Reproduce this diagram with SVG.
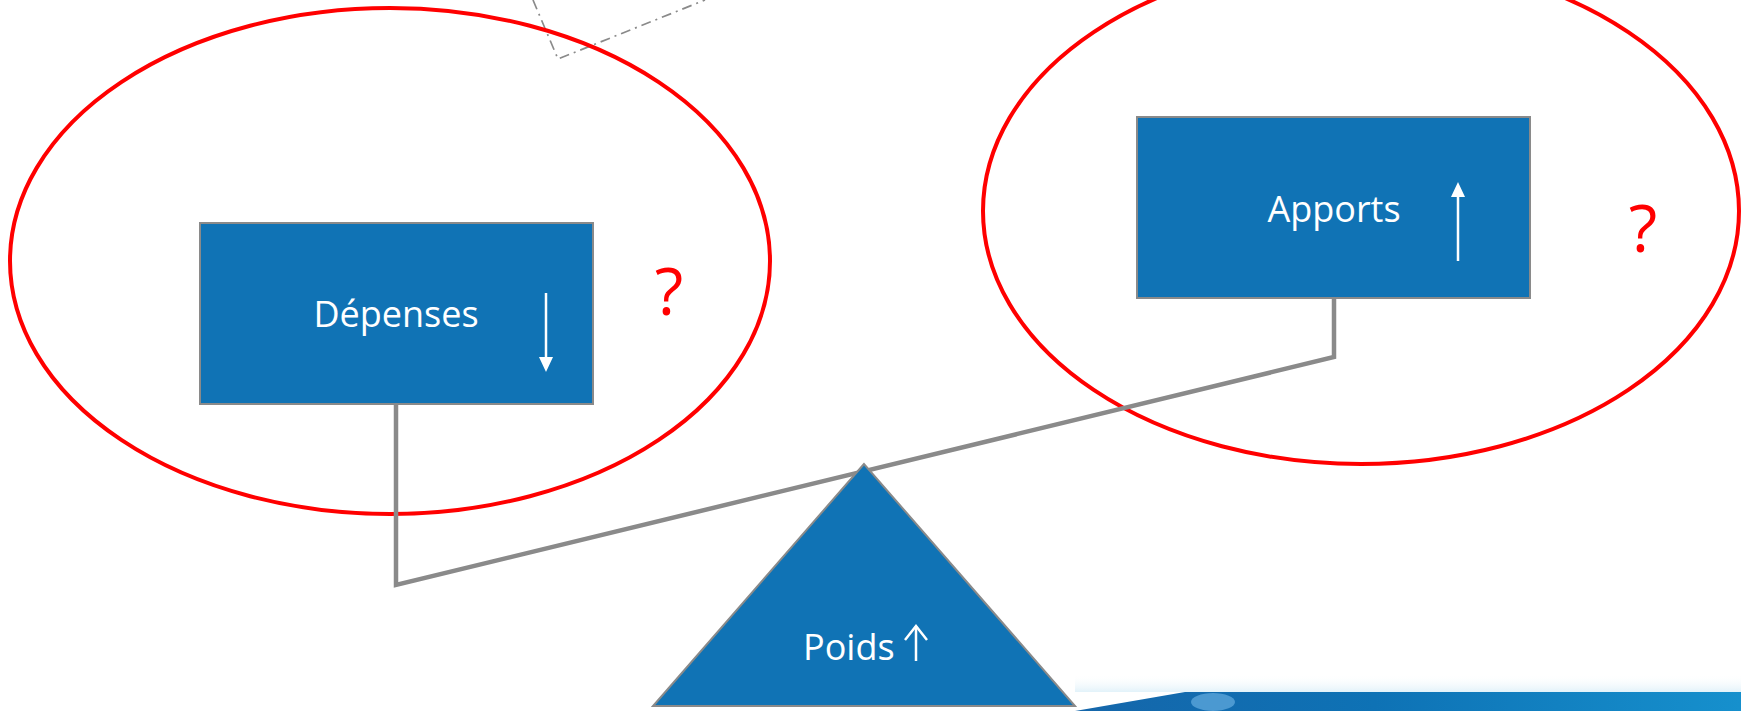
<svg xmlns="http://www.w3.org/2000/svg" width="1741" height="711" viewBox="0 0 1741 711">
<style>
.node{fill:#1073b5;stroke:#8a8a8a;stroke-width:2}
.lbl{font-family:"Open Sans","Noto Sans",sans-serif;font-size:36px;fill:#ffffff}
.q{font-family:"Open Sans","Noto Sans",sans-serif;font-size:66px;fill:#ff0000}
.ring{fill:none;stroke:#ff0000;stroke-width:4}
.beam{fill:none;stroke:#8a8a8a;stroke-width:4.5;stroke-linejoin:miter}
.shaft{stroke:#ffffff;stroke-width:2.5;fill:none}
.head{fill:#ffffff}
</style>
<defs>
<linearGradient id="band" x1="0" y1="0" x2="1" y2="0">
<stop offset="0" stop-color="#1566aa"/>
<stop offset="0.45" stop-color="#0e72b5"/>
<stop offset="1" stop-color="#1690cd"/>
</linearGradient>
<linearGradient id="haze" x1="0" y1="0" x2="0" y2="1">
<stop offset="0" stop-color="#ffffff" stop-opacity="0"/>
<stop offset="1" stop-color="#e2f2fa"/>
</linearGradient>
</defs>
<g id="decor">
<rect x="1075" y="674" width="666" height="18" fill="url(#haze)"/>
<path d="M1075,711 L1185,692 L1741,692 L1741,711 Z" fill="url(#band)"/>
<ellipse cx="1213" cy="702" rx="22" ry="9" fill="#5fa8dc" opacity="0.75"/>
<polyline points="533,0 558,59 705,0" fill="none" stroke="#8a8a8a" stroke-width="1.7" stroke-dasharray="10,5,2,5"/>
</g>
<g id="ring-left">
<ellipse class="ring" cx="390" cy="261" rx="380" ry="253"/>
<text class="q" x="669" y="315" text-anchor="middle">?</text>
</g>
<g id="ring-right">
<ellipse class="ring" cx="1361" cy="211" rx="378" ry="253"/>
<text class="q" x="1643" y="252" text-anchor="middle">?</text>
</g>
<g id="connectors">
<polyline class="beam" points="396,404 396,585 1334,357 1334,298"/>
</g>
<g id="depenses">
<rect class="node" x="200" y="223" width="393" height="181"/>
<text class="lbl" x="396" y="327" text-anchor="middle">Dépenses</text>
<line class="shaft" x1="546" y1="293" x2="546" y2="360"/>
<path class="head" d="M539,357 L553,357 L546,372 Z"/>
</g>
<g id="apports">
<rect class="node" x="1137" y="117" width="393" height="181"/>
<text class="lbl" x="1334" y="222" text-anchor="middle">Apports</text>
<line class="shaft" x1="1458" y1="194" x2="1458" y2="261"/>
<path class="head" d="M1451,197 L1465,197 L1458,182 Z"/>
</g>
<g id="poids">
<polygon class="node" points="864,464 653,706 1075,706"/>
<text class="lbl" x="803" y="660">Poids</text>
<line class="shaft" x1="916" y1="626" x2="916" y2="661" stroke-width="2"/>
<polyline class="shaft" points="905,640 916,626 927,640" stroke-width="2"/>
</g>
</svg>
